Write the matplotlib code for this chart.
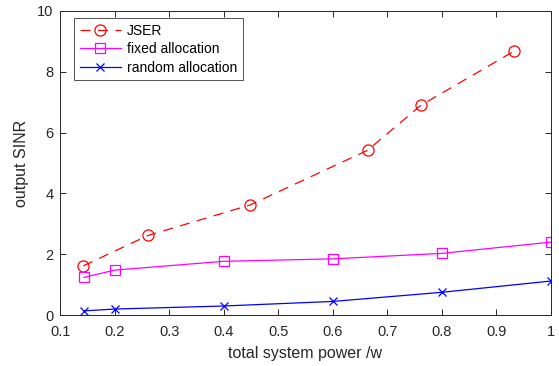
import matplotlib
matplotlib.use('Agg')
import matplotlib.pyplot as plt

plt.rcParams['font.family'] = ['Liberation Sans', 'DejaVu Sans']

# JSER
x_jser = [0.142, 0.261, 0.448, 0.664, 0.762, 0.932]
y_jser = [1.62, 2.62, 3.62, 5.42, 6.90, 8.67]
# fixed allocation
x_fixed = [0.143, 0.2, 0.4, 0.6, 0.8, 1.0]
y_fixed = [1.24, 1.48, 1.77, 1.85, 2.03, 2.40]
# random allocation
x_rand = [0.143, 0.2, 0.4, 0.6, 0.8, 1.0]
y_rand = [0.14, 0.20, 0.30, 0.45, 0.75, 1.12]

fig = plt.figure(figsize=(5.59, 3.66), dpi=100)
ax = fig.add_axes([0.108, 0.139, 0.877, 0.831])

ax.plot(x_jser, y_jser, color='#FF0000', linestyle=(0, (8, 6)), linewidth=0.9,
        marker='o', markersize=8, markerfacecolor='none', markeredgewidth=0.9, label='JSER')
ax.plot(x_fixed, y_fixed, color='#FF00FF', linewidth=0.9,
        marker='s', markersize=6.5, markerfacecolor='none', markeredgewidth=0.9, label='fixed allocation')
ax.plot(x_rand, y_rand, color='#0000FF', linewidth=0.9,
        marker='x', markersize=6, markeredgewidth=0.9, label='random allocation')

ax.set_xlim(0.1, 1)
ax.set_ylim(0, 10)
ax.set_xticks([0.1, 0.2, 0.3, 0.4, 0.5, 0.6, 0.7, 0.8, 0.9, 1])
ax.set_xticklabels(['0.1', '0.2', '0.3', '0.4', '0.5', '0.6', '0.7', '0.8', '0.9', '1'])
ax.set_yticks([0, 2, 4, 6, 8, 10])
ax.tick_params(direction='in', top=True, right=True, labelsize=10.5, colors='#262626',
               length=4, width=0.7)
ax.tick_params(axis='x', pad=7)
ax.tick_params(axis='y', pad=5)
for s in ax.spines.values():
    s.set_color('#262626')
    s.set_linewidth(0.7)

ax.set_xlabel('total system power /w', fontsize=11.5, color='#262626', labelpad=5)
ax.set_ylabel('output SINR', fontsize=11.5, color='#262626', labelpad=6)

leg = ax.legend(loc='upper left', fontsize=10, frameon=True, fancybox=False,
                edgecolor='#262626', handlelength=3.0, borderpad=0.4,
                labelspacing=0.32, handletextpad=0.4, borderaxespad=0,
                bbox_to_anchor=(0.028, 0.976))
leg.get_frame().set_linewidth(0.7)

fig.savefig('out.png', dpi=100)
